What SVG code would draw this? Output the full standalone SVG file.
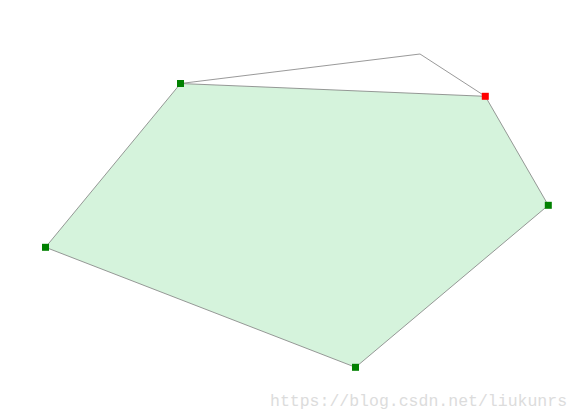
<svg xmlns="http://www.w3.org/2000/svg" width="581" height="420" viewBox="0 0 581 420">
<style>
.poly{fill:#d5f3dc;stroke:#7f7f7f;stroke-width:0.8}
.line{fill:none;stroke:#7f7f7f;stroke-width:0.8}
.v{fill:#008000}
.r{fill:#ff0000}
.wm{font-family:"Liberation Mono",monospace;font-size:16.5px;fill:#dcdcdc}
</style>
<rect width="581" height="420" fill="#ffffff"/>
<g id="connectors">
<polygon class="poly" points="180.5,83.5 485.3,96.3 548.3,205.3 355.5,367.3 45.5,247.3"/>
<polyline class="line" points="180.5,83.5 420,54 485.3,96.3"/>
</g>
<g id="v1"><rect class="v" x="177" y="80" width="7" height="7"/></g>
<g id="v2"><rect class="r" x="481.8" y="92.8" width="7" height="7"/></g>
<g id="v3"><rect class="v" x="544.8" y="201.8" width="7" height="7"/></g>
<g id="v4"><rect class="v" x="352" y="363.8" width="7" height="7"/></g>
<g id="v5"><rect class="v" x="42" y="243.8" width="7" height="7"/></g>
<text class="wm" x="270" y="406">https://blog.csdn.net/liukunrs</text>
</svg>
